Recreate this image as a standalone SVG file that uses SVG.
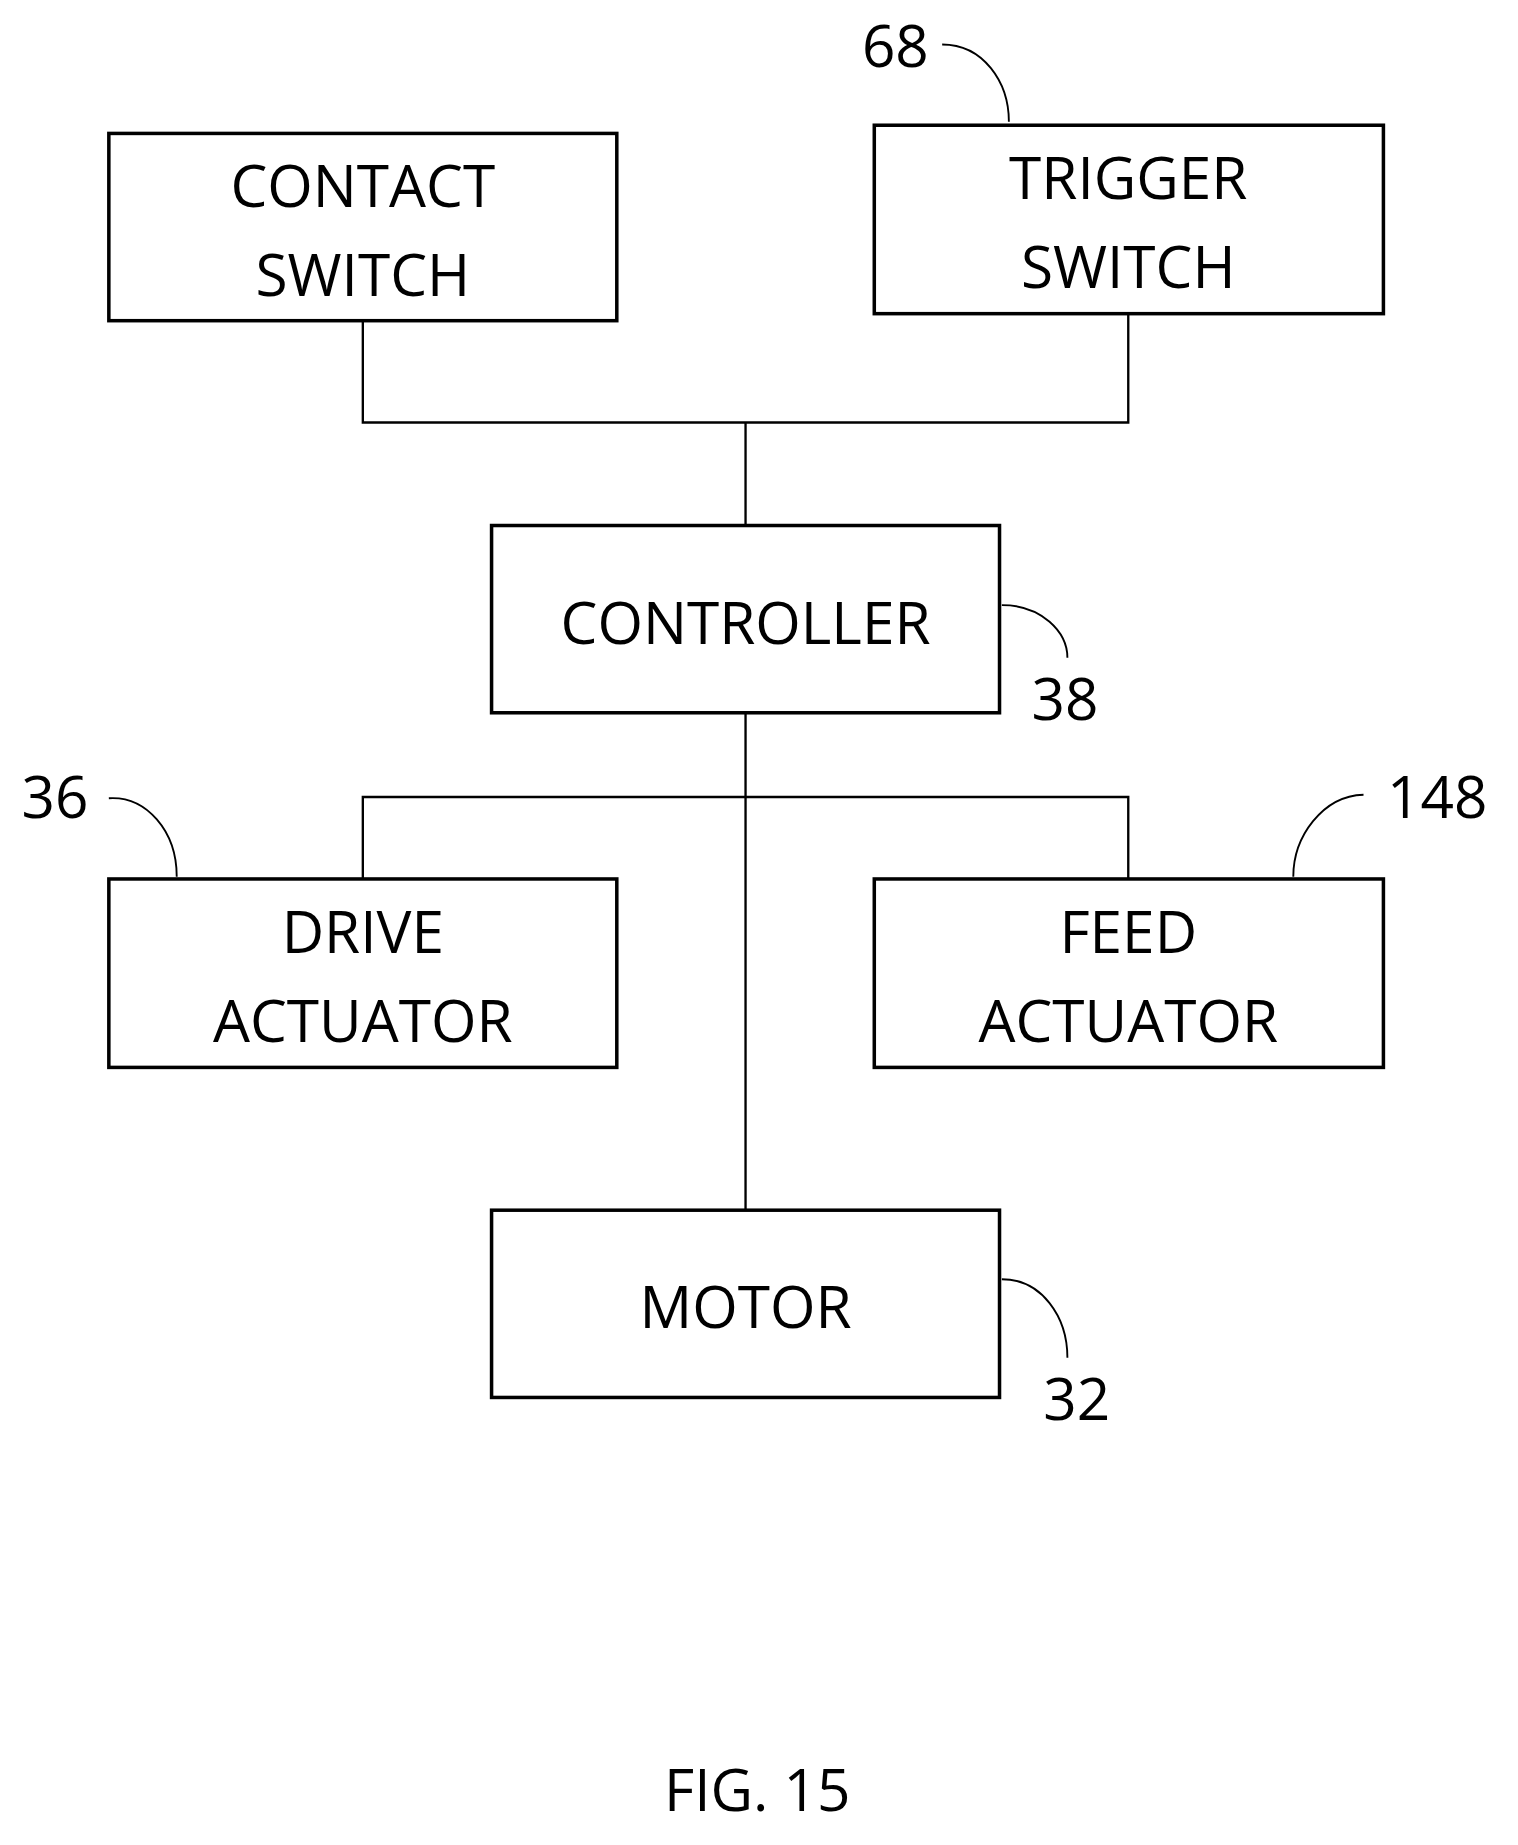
<svg xmlns="http://www.w3.org/2000/svg" width="1518" height="1845" viewBox="0 0 1518 1845">
<style>
.b{fill:#fff;stroke:#000;stroke-width:3}
.t{font-family:"Open Sans","Liberation Sans",sans-serif;font-size:50px;text-anchor:middle;fill:#000}
.l{fill:none;stroke:#000;stroke-width:2}
.c{fill:none;stroke:#000;stroke-width:1.6}
</style>
<rect width="1518" height="1845" fill="#fff"/>
<g transform="scale(1.1704)">
<g id="connectors">
<polyline class="l" points="310,274 310,361 964,361 964,268"/>
<line class="l" x1="637" y1="361" x2="637" y2="449"/>
<line class="l" x1="637" y1="609" x2="637" y2="1034"/>
<polyline class="l" points="310,751 310,681 964,681 964,751"/>
<path class="c" d="M805,38 C840,38 862,70 862,104"/>
<path class="c" d="M856,517 C890,517 912,540 912,562"/>
<path class="c" d="M93,682 C125,680 151,710 151,749"/>
<path class="c" d="M1165,679 C1130,680 1105,715 1105,749"/>
<path class="c" d="M856,1093 C890,1093 912,1125 912,1160"/>
</g>
<g id="contact"><rect class="b" x="93" y="114" width="434" height="160"/><text class="t" x="310" y="177">CONTACT</text><text class="t" x="310" y="253">SWITCH</text></g>
<g id="trigger"><rect class="b" x="747" y="107" width="435" height="161"/><text class="t" x="964" y="170">TRIGGER</text><text class="t" x="964" y="246">SWITCH</text></g>
<g id="controller"><rect class="b" x="420" y="449" width="434" height="160"/><text class="t" x="637" y="550">CONTROLLER</text></g>
<g id="drive"><rect class="b" x="93" y="751" width="434" height="161"/><text class="t" x="310" y="814">DRIVE</text><text class="t" x="310" y="890">ACTUATOR</text></g>
<g id="feed"><rect class="b" x="747" y="751" width="435" height="161"/><text class="t" x="964" y="814">FEED</text><text class="t" x="964" y="890">ACTUATOR</text></g>
<g id="motor"><rect class="b" x="420" y="1034" width="434" height="160"/><text class="t" x="637" y="1135">MOTOR</text></g>
<text class="t" x="765" y="57">68</text>
<text class="t" x="910" y="615">38</text>
<text class="t" x="47" y="699">36</text>
<text class="t" x="1228" y="699">148</text>
<text class="t" x="920" y="1213">32</text>
<text class="t" x="647" y="1547">FIG. 15</text>
</g>
</svg>
